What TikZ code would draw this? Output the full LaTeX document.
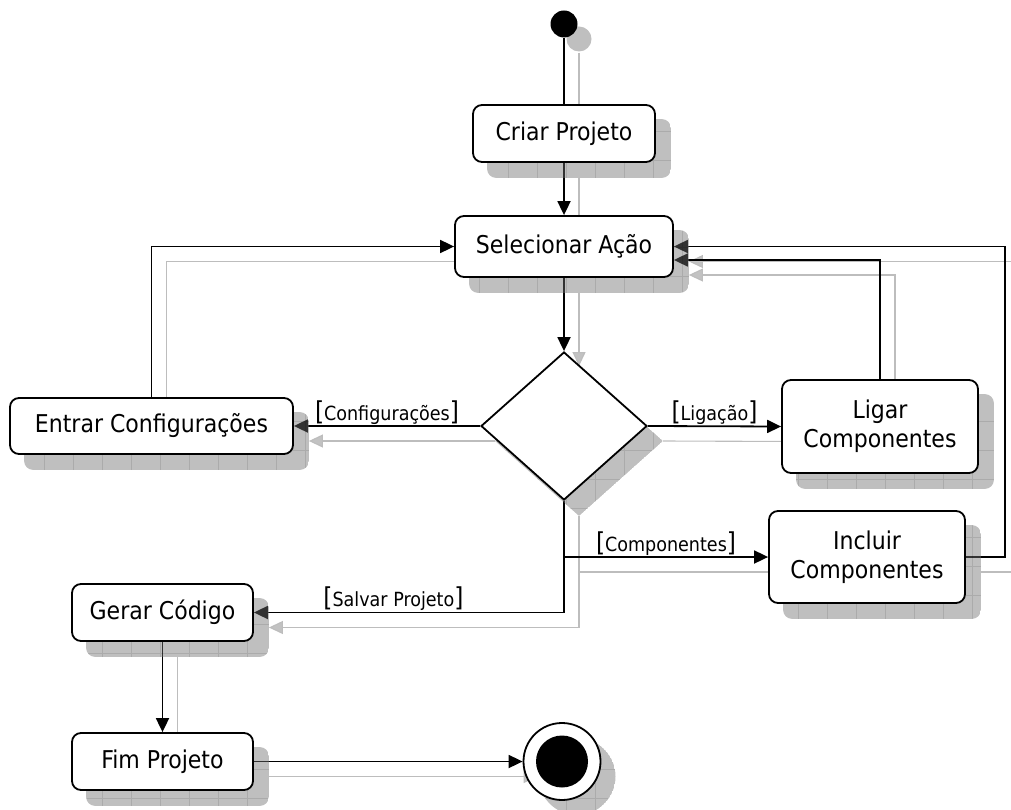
\documentclass[tikz,border=0pt]{standalone}
\usepackage{fontspec}
\setmainfont{DejaVu Sans Condensed}
\usetikzlibrary{arrows.meta,shapes.geometric}

% drawing order: connector shadows, connectors, node shadows, nodes
\pgfdeclarelayer{wireshade}
\pgfdeclarelayer{wires}
\pgfdeclarelayer{boxshade}
\pgfsetlayers{wireshade,wires,boxshade,main}

\definecolor{shadefill}{gray}{0.44}
\definecolor{wireshadecol}{gray}{0.74}
\definecolor{tipshadecol}{gray}{0.76}

\newcommand\bigbr{\fontsize{26}{26}\selectfont}
\newcommand\guardtext[1]{{\bigbr[}#1{\bigbr]}}

\tikzset{
  activity/.style={draw, line width=1.8pt, fill=white, rounded corners=9pt,
    inner sep=0pt, font=\fontsize{24.5}{29}\selectfont, align=center},
  link/.style={line width=1.8pt, -{Triangle[length=14pt,width=13pt]}},
  plainlink/.style={line width=1.8pt},
  guard/.style={font=\fontsize{19.5}{20}\selectfont, inner sep=1.5pt, above},
  shadelink/.style={line width=1.1pt, draw=wireshadecol,
    -{Triangle[length=14pt,width=13pt,fill=tipshadecol]}},
  shadeplain/.style={line width=1.1pt, draw=wireshadecol},
}

% every connector of the activity diagram
\newcommand\drawwires{%
  \draw[plainlink] (init) -- (criar.north);
  \draw[link] (criar.south) -- (sel.north);
  \draw[link] (sel.south) -- (dia.north);
  \draw[link] (dia.west) -- (entrar.east);
  \draw[link] (dia.east) -- (ligar.west);
  \draw[link] (dia.south) |- (incluir.west);
  \draw[link] (dia.south) |- (gerar.east);
  \draw[link] (entrar.north) |- (sel.west);
  \draw[link] (ligar.north) |- ([yshift=-13.5pt]sel.east);
  \draw[link] (incluir.east) -- ++(39,0) |- (sel.east);
  \draw[link] (gerar.south) -- (fim.north);
  \draw[link] (fim.east) -- (final.west);
}

% grey drop shadow of a rounded box
\newcommand\boxshade[1]{%
  \begin{pgfonlayer}{boxshade}
    \begin{scope}[transform canvas={shift={(15pt,-15pt)}}]
      \clip[rounded corners=9pt] (#1.south west) rectangle (#1.north east);
      \fill[shadefill, opacity=0.45] (#1.south west) rectangle (#1.north east);
      \draw[black, opacity=0.1, line width=0.8pt, step=29pt] (0,0) grid (1040,840);
    \end{scope}
  \end{pgfonlayer}}

\begin{document}
\begin{tikzpicture}[x=1pt, y=-1pt]
  \useasboundingbox (0,0) rectangle (1011,810);

  % nodes
  \node[circle, fill=black, minimum size=27pt, inner sep=0pt] (init) at (564,24) {};
  \node[activity, minimum width=182pt, minimum height=57pt] (criar) at (564,133.5) {Criar Projeto};
  \node[activity, minimum width=218pt, minimum height=61pt] (sel) at (564,246.5) {Selecionar Ação};
  \node[diamond, draw, line width=1.8pt, fill=white, aspect=1.12, inner sep=0pt,
        minimum width=166pt, minimum height=148pt] (dia) at (564,426) {};
  \node[activity, minimum width=283pt, minimum height=56pt] (entrar) at (151.5,426) {Entrar Configurações};
  \node[activity, minimum width=196pt, minimum height=93pt] (ligar) at (880,426.5) {Ligar\\Componentes};
  \node[activity, minimum width=196pt, minimum height=92pt] (incluir) at (867,557) {Incluir\\Componentes};
  \node[activity, minimum width=181pt, minimum height=57pt] (gerar) at (162.5,612.5) {Gerar Código};
  \node[activity, minimum width=181pt, minimum height=57pt] (fim) at (162.5,761.5) {Fim Projeto};
  \node[circle, draw, line width=1.8pt, fill=white, minimum size=77pt, inner sep=0pt] (final) at (562,761.5) {};
  \fill (final.center) circle[radius=26pt];

  % connector shadows
  \begin{pgfonlayer}{wireshade}
    \begin{scope}[transform canvas={shift={(15pt,-15pt)}},
                  link/.style={shadelink}, plainlink/.style={shadeplain}]
      \drawwires
    \end{scope}
  \end{pgfonlayer}

  % connectors
  \begin{pgfonlayer}{wires}
    \drawwires
  \end{pgfonlayer}

  % guard labels
  \path (dia.west) -- (entrar.east) node[guard, midway] {\guardtext{Configurações}};
  \path (dia.east) -- (ligar.west) node[guard, midway] {\guardtext{Ligação}};
  \path (dia.south) |- (incluir.west) node[guard, pos=0.75] {\guardtext{Componentes}};
  \path (dia.south) |- (gerar.east) node[guard, pos=0.775] {\guardtext{Salvar Projeto}};

  % node shadows
  \begin{pgfonlayer}{boxshade}
    \fill[shadefill, opacity=0.45] ([shift={(15pt,-15pt)}]init.center) circle[radius=12.5pt];
    \begin{scope}[transform canvas={shift={(15pt,-15pt)}}]
      \clip (dia.north) -- (dia.east) -- (dia.south) -- (dia.west) -- cycle;
      \fill[shadefill, opacity=0.45] (dia.north) -- (dia.east) -- (dia.south) -- (dia.west) -- cycle;
      \draw[black, opacity=0.1, line width=0.8pt, step=29pt] (0,0) grid (1040,840);
    \end{scope}
    \begin{scope}[transform canvas={shift={(15pt,-15pt)}}]
      \clip (final.center) circle[radius=38.5pt];
      \fill[shadefill, opacity=0.45] (final.center) circle[radius=38.5pt];
      \draw[black, opacity=0.1, line width=0.8pt, step=29pt] (0,0) grid (1040,840);
    \end{scope}
  \end{pgfonlayer}
  \boxshade{criar}
  \boxshade{sel}
  \boxshade{entrar}
  \boxshade{ligar}
  \boxshade{incluir}
  \boxshade{gerar}
  \boxshade{fim}
\end{tikzpicture}
\end{document}
